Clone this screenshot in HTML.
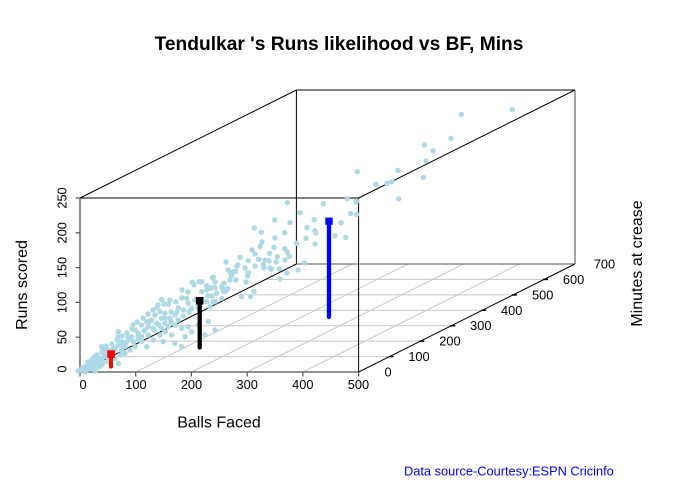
<!DOCTYPE html>
<html><head><meta charset="utf-8"><style>html,body{margin:0;padding:0;background:#fff;}svg{display:block;}</style></head>
<body>
<svg width="676" height="482" viewBox="0 0 676 482" xmlns="http://www.w3.org/2000/svg" font-family="'Liberation Sans', Arial, sans-serif">
<rect width="676" height="482" fill="#fff"/>
<text x="339" y="50" font-size="19.2" font-weight="bold" text-anchor="middle" fill="#000">Tendulkar 's Runs likelihood vs BF, Mins</text>

<!-- grid -->
<g stroke="#c8c8c8" stroke-width="1" fill="none">
<line x1="110.9" y1="356.6" x2="389.5" y2="356.6"/>
<line x1="141.8" y1="341.1" x2="420.4" y2="341.1"/>
<line x1="172.7" y1="325.7" x2="451.3" y2="325.7"/>
<line x1="203.6" y1="310.3" x2="482.2" y2="310.3"/>
<line x1="234.6" y1="294.9" x2="513.2" y2="294.9"/>
<line x1="265.5" y1="279.4" x2="544.1" y2="279.4"/>
<line x1="135.7" y1="372" x2="352.1" y2="264"/>
<line x1="191.4" y1="372" x2="407.8" y2="264"/>
<line x1="247.2" y1="372" x2="463.6" y2="264"/>
<line x1="302.9" y1="372" x2="519.3" y2="264"/>
</g>

<!-- box -->
<g stroke="#000" stroke-width="1" fill="none">
<line x1="80" y1="198" x2="358.6" y2="198"/>
<line x1="80" y1="198" x2="296.4" y2="90"/>
<line x1="358.6" y1="198" x2="575" y2="90"/>
<line x1="296.4" y1="90" x2="575" y2="90"/>
<line x1="296.4" y1="90" x2="296.4" y2="264"/>
<line x1="575" y1="90" x2="575" y2="264" stroke="#444"/>
<line x1="296.4" y1="264" x2="575" y2="264" stroke="#555"/>
<line x1="80" y1="372" x2="296.4" y2="264"/>
<line x1="358.6" y1="198" x2="358.6" y2="372"/>
<line x1="358.6" y1="372" x2="575" y2="264"/>
</g>
<g stroke="#6e6e6e" stroke-width="1.6" fill="none">
<line x1="80" y1="198" x2="80" y2="372.8"/>
<line x1="79.2" y1="372" x2="358.6" y2="372"/>
</g>

<!-- ticks -->
<g stroke="#555" stroke-width="1.2">
<line x1="75.5" y1="372" x2="80" y2="372"/>
<line x1="75.5" y1="337.2" x2="80" y2="337.2"/>
<line x1="75.5" y1="302.4" x2="80" y2="302.4"/>
<line x1="75.5" y1="267.6" x2="80" y2="267.6"/>
<line x1="75.5" y1="232.8" x2="80" y2="232.8"/>
<line x1="75.5" y1="198" x2="80" y2="198"/>
<line x1="80" y1="372" x2="80" y2="376.5"/>
<line x1="135.7" y1="372" x2="135.7" y2="376.5"/>
<line x1="191.4" y1="372" x2="191.4" y2="376.5"/>
<line x1="247.2" y1="372" x2="247.2" y2="376.5"/>
<line x1="302.9" y1="372" x2="302.9" y2="376.5"/>
<line x1="358.6" y1="372" x2="358.6" y2="376.5"/>
</g>
<g stroke="#000" stroke-width="1.5">
<line x1="388.5" y1="356.6" x2="393.5" y2="356.6"/>
<line x1="419.4" y1="341.1" x2="424.4" y2="341.1"/>
<line x1="450.3" y1="325.7" x2="455.3" y2="325.7"/>
<line x1="481.2" y1="310.3" x2="486.2" y2="310.3"/>
<line x1="512.1" y1="294.9" x2="517.1" y2="294.9"/>
<line x1="543" y1="279.4" x2="548" y2="279.4"/>
</g>

<!-- tick labels -->
<g font-size="12.8" fill="#000" text-anchor="middle">
<text transform="translate(66.5,369) rotate(-90)">0</text>
<text transform="translate(66.5,337.2) rotate(-90)">50</text>
<text transform="translate(66.5,302.4) rotate(-90)">100</text>
<text transform="translate(66.5,267.6) rotate(-90)">150</text>
<text transform="translate(66.5,232.8) rotate(-90)">200</text>
<text transform="translate(66.5,198) rotate(-90)">250</text>
<text x="83" y="389">0</text>
<text x="135.9" y="389">100</text>
<text x="191.5" y="389">200</text>
<text x="247.2" y="389">300</text>
<text x="302.8" y="389">400</text>
<text x="358.4" y="389">500</text>
<text x="388.1" y="376.5">0</text>
<text x="419" y="361.1">100</text>
<text x="449.9" y="345.6">200</text>
<text x="480.8" y="330.2">300</text>
<text x="511.7" y="314.8">400</text>
<text x="542.7" y="299.4">500</text>
<text x="573.6" y="283.9">600</text>
<text x="604.5" y="268.5">700</text>
</g>

<!-- axis titles -->
<g font-size="16" fill="#000" text-anchor="middle">
<text transform="translate(27,285) rotate(-90)">Runs scored</text>
<text x="219" y="427.7">Balls Faced</text>
<text transform="translate(642,263.5) rotate(-90)">Minutes at crease</text>
</g>
<text x="404" y="475.7" font-size="12.8" fill="#0000ff">Data source-Courtesy:ESPN Cricinfo</text>

<!-- points -->
<g fill="#ADD8E6">
<circle cx="357.3" cy="171.7" r="2.7"/><circle cx="375.7" cy="184.3" r="2.7"/><circle cx="387" cy="183.3" r="2.7"/><circle cx="391.7" cy="181.7" r="2.7"/><circle cx="397.7" cy="170.3" r="2.7"/><circle cx="398.7" cy="198.7" r="2.7"/><circle cx="424.3" cy="145" r="2.7"/><circle cx="433" cy="150.7" r="2.7"/><circle cx="426" cy="161" r="2.7"/><circle cx="423.3" cy="177.3" r="2.7"/><circle cx="451" cy="138.3" r="2.7"/><circle cx="461.3" cy="114.3" r="2.7"/><circle cx="512.3" cy="109.7" r="2.7"/><circle cx="356.7" cy="201" r="2.7"/>
<circle cx="287.3" cy="202.7" r="2.7"/><circle cx="323.3" cy="203.7" r="2.7"/><circle cx="347.3" cy="198.7" r="2.7"/><circle cx="356" cy="202" r="2.7"/><circle cx="300" cy="212.7" r="2.7"/><circle cx="350.7" cy="213.7" r="2.7"/><circle cx="356.7" cy="214.3" r="2.7"/><circle cx="274.7" cy="220" r="2.7"/><circle cx="290" cy="222.7" r="2.7"/><circle cx="314.3" cy="219.7" r="2.7"/><circle cx="341" cy="222.7" r="2.7"/><circle cx="254.3" cy="228" r="2.7"/><circle cx="261.3" cy="232.3" r="2.7"/><circle cx="284.7" cy="232.7" r="2.7"/><circle cx="307" cy="227.7" r="2.7"/><circle cx="315" cy="230.7" r="2.7"/><circle cx="315.7" cy="233" r="2.7"/><circle cx="335" cy="235.7" r="2.7"/><circle cx="345.7" cy="237.3" r="2.7"/><circle cx="306" cy="238.3" r="2.7"/><circle cx="296.7" cy="243.3" r="2.7"/><circle cx="315" cy="244" r="2.7"/><circle cx="260" cy="246.3" r="2.7"/><circle cx="274" cy="247.3" r="2.7"/><circle cx="284.7" cy="248.7" r="2.7"/><circle cx="287.3" cy="252" r="2.7"/><circle cx="289.3" cy="256.3" r="2.7"/><circle cx="255" cy="254" r="2.7"/><circle cx="269.7" cy="253.3" r="2.7"/><circle cx="277.3" cy="256.7" r="2.7"/><circle cx="285" cy="260" r="2.7"/><circle cx="240" cy="257.3" r="2.7"/><circle cx="248.3" cy="260.7" r="2.7"/><circle cx="258.7" cy="259.3" r="2.7"/><circle cx="265" cy="260" r="2.7"/><circle cx="269" cy="260.7" r="2.7"/><circle cx="263.3" cy="264.7" r="2.7"/><circle cx="236.7" cy="266" r="2.7"/><circle cx="226" cy="262" r="2.7"/><circle cx="270" cy="268" r="2.7"/><circle cx="271.3" cy="269" r="2.7"/><circle cx="279.3" cy="269" r="2.7"/><circle cx="298" cy="270" r="2.7"/><circle cx="304.3" cy="263" r="2.7"/><circle cx="287" cy="273" r="2.7"/><circle cx="280" cy="279" r="2.7"/><circle cx="233.3" cy="271.7" r="2.7"/><circle cx="235.7" cy="271.3" r="2.7"/><circle cx="231" cy="272.7" r="2.7"/><circle cx="231.7" cy="275.3" r="2.7"/><circle cx="248.3" cy="272.7" r="2.7"/><circle cx="247.7" cy="276" r="2.7"/><circle cx="213.3" cy="277.3" r="2.7"/><circle cx="201.7" cy="281.7" r="2.7"/><circle cx="224" cy="283.3" r="2.7"/><circle cx="228" cy="288.7" r="2.7"/><circle cx="223.3" cy="289" r="2.7"/><circle cx="225" cy="291.7" r="2.7"/><circle cx="207.3" cy="286.7" r="2.7"/><circle cx="211" cy="287.7" r="2.7"/><circle cx="214.7" cy="287.7" r="2.7"/><circle cx="206.7" cy="290" r="2.7"/><circle cx="208" cy="295.7" r="2.7"/><circle cx="212" cy="296" r="2.7"/><circle cx="254" cy="291.3" r="2.7"/><circle cx="241.7" cy="296.7" r="2.7"/><circle cx="250.7" cy="296.7" r="2.7"/>
<circle cx="192.3" cy="282.3" r="2.7"/><circle cx="199" cy="281.7" r="2.7"/><circle cx="212.3" cy="277.7" r="2.7"/><circle cx="206.7" cy="285.7" r="2.7"/><circle cx="210" cy="288.3" r="2.7"/><circle cx="215" cy="287.7" r="2.7"/><circle cx="221.7" cy="286.7" r="2.7"/><circle cx="201.7" cy="291.7" r="2.7"/><circle cx="216.7" cy="293.3" r="2.7"/><circle cx="223.3" cy="291" r="2.7"/><circle cx="161.7" cy="299.7" r="2.7"/><circle cx="181.7" cy="297.7" r="2.7"/><circle cx="186.7" cy="298.3" r="2.7"/><circle cx="188.3" cy="303.3" r="2.7"/><circle cx="168.3" cy="304.3" r="2.7"/><circle cx="178.3" cy="307.7" r="2.7"/><circle cx="183.3" cy="310" r="2.7"/><circle cx="191.7" cy="308.3" r="2.7"/><circle cx="206.7" cy="301.7" r="2.7"/><circle cx="210" cy="306.7" r="2.7"/><circle cx="215" cy="301.7" r="2.7"/><circle cx="221.7" cy="298.3" r="2.7"/><circle cx="156.7" cy="307.7" r="2.7"/><circle cx="160" cy="311.7" r="2.7"/><circle cx="165" cy="313.3" r="2.7"/><circle cx="155" cy="315" r="2.7"/><circle cx="161.7" cy="318.3" r="2.7"/><circle cx="170" cy="318.3" r="2.7"/><circle cx="175" cy="315" r="2.7"/><circle cx="178.3" cy="320" r="2.7"/><circle cx="151.7" cy="320" r="2.7"/><circle cx="156.7" cy="323.3" r="2.7"/><circle cx="165" cy="323.3" r="2.7"/><circle cx="141.7" cy="325" r="2.7"/><circle cx="146.7" cy="321.7" r="2.7"/><circle cx="148.3" cy="326.7" r="2.7"/><circle cx="153.3" cy="328.3" r="2.7"/><circle cx="161.7" cy="328.3" r="2.7"/><circle cx="168.3" cy="326.7" r="2.7"/><circle cx="175" cy="325" r="2.7"/><circle cx="181.7" cy="328.3" r="2.7"/><circle cx="188.3" cy="326.7" r="2.7"/><circle cx="191.7" cy="331.7" r="2.7"/><circle cx="198.3" cy="325" r="2.7"/><circle cx="208.3" cy="321.7" r="2.7"/><circle cx="205" cy="335" r="2.7"/><circle cx="215" cy="330" r="2.7"/><circle cx="171.7" cy="335" r="2.7"/><circle cx="165" cy="331.7" r="2.7"/><circle cx="135" cy="330" r="2.7"/><circle cx="138.3" cy="333.3" r="2.7"/><circle cx="141.7" cy="336.7" r="2.7"/><circle cx="148.3" cy="335" r="2.7"/><circle cx="131.7" cy="336.7" r="2.7"/><circle cx="128.3" cy="340" r="2.7"/><circle cx="133.3" cy="341.7" r="2.7"/><circle cx="141.7" cy="341.7" r="2.7"/><circle cx="121.7" cy="341.7" r="2.7"/><circle cx="118.3" cy="345" r="2.7"/><circle cx="125" cy="346.7" r="2.7"/><circle cx="115" cy="348.3" r="2.7"/><circle cx="108.3" cy="350" r="2.7"/><circle cx="121.7" cy="350" r="2.7"/><circle cx="101.7" cy="346.7" r="2.7"/><circle cx="103.3" cy="353.3" r="2.7"/><circle cx="105" cy="355" r="2.7"/><circle cx="95" cy="356.7" r="2.7"/><circle cx="98.3" cy="360" r="2.7"/><circle cx="91.7" cy="360" r="2.7"/><circle cx="88.3" cy="363.3" r="2.7"/><circle cx="93.3" cy="365" r="2.7"/><circle cx="85" cy="366.7" r="2.7"/><circle cx="81.7" cy="369" r="2.7"/><circle cx="90" cy="368.3" r="2.7"/><circle cx="96.7" cy="366.7" r="2.7"/><circle cx="101.7" cy="365" r="2.7"/><circle cx="108.3" cy="361.7" r="2.7"/><circle cx="115" cy="358.3" r="2.7"/><circle cx="120" cy="355" r="2.7"/><circle cx="125" cy="353.3" r="2.7"/><circle cx="130" cy="350" r="2.7"/><circle cx="135" cy="346.7" r="2.7"/><circle cx="118.3" cy="363.3" r="2.7"/><circle cx="78.3" cy="371" r="2.7"/><circle cx="85" cy="371.7" r="2.7"/><circle cx="95" cy="371" r="2.7"/><circle cx="146.7" cy="346.7" r="2.7"/><circle cx="153.3" cy="340" r="2.7"/><circle cx="163.3" cy="341.7" r="2.7"/><circle cx="175" cy="343.3" r="2.7"/><circle cx="185" cy="336.7" r="2.7"/><circle cx="181.7" cy="346.7" r="2.7"/><circle cx="160" cy="335" r="2.7"/><circle cx="118.3" cy="331.7" r="2.7"/>
<circle cx="80" cy="370" r="2.7"/><circle cx="83" cy="368" r="2.7"/><circle cx="87" cy="366" r="2.7"/><circle cx="90" cy="364" r="2.7"/><circle cx="92" cy="368" r="2.7"/><circle cx="95" cy="362" r="2.7"/><circle cx="98" cy="364" r="2.7"/><circle cx="100" cy="360" r="2.7"/><circle cx="103" cy="362" r="2.7"/><circle cx="86" cy="371" r="2.7"/><circle cx="99" cy="367" r="2.7"/><circle cx="104" cy="357" r="2.7"/><circle cx="108" cy="358" r="2.7"/><circle cx="112" cy="355" r="2.7"/><circle cx="111" cy="351" r="2.7"/><circle cx="126" cy="343" r="2.7"/><circle cx="138" cy="339" r="2.7"/><circle cx="145" cy="330" r="2.7"/><circle cx="171" cy="312" r="2.7"/><circle cx="198" cy="308" r="2.7"/><circle cx="213" cy="301.7" r="2.7"/>
<circle cx="88" cy="362" r="2.7"/><circle cx="90" cy="366" r="2.7"/><circle cx="93" cy="358" r="2.7"/><circle cx="94" cy="361" r="2.7"/><circle cx="97" cy="355" r="2.7"/><circle cx="99" cy="358" r="2.7"/><circle cx="102" cy="352" r="2.7"/><circle cx="104" cy="349" r="2.7"/><circle cx="106" cy="346" r="2.7"/><circle cx="107" cy="353" r="2.7"/><circle cx="112" cy="344" r="2.7"/><circle cx="113" cy="349" r="2.7"/><circle cx="117" cy="340" r="2.7"/><circle cx="118" cy="337" r="2.7"/><circle cx="122" cy="336" r="2.7"/><circle cx="123" cy="345" r="2.7"/><circle cx="127" cy="333" r="2.7"/><circle cx="128" cy="337" r="2.7"/><circle cx="132" cy="329" r="2.7"/><circle cx="133" cy="325" r="2.7"/><circle cx="137" cy="322" r="2.7"/><circle cx="138" cy="336" r="2.7"/><circle cx="143" cy="318" r="2.7"/><circle cx="144" cy="331" r="2.7"/><circle cx="148" cy="314" r="2.7"/><circle cx="149" cy="322" r="2.7"/><circle cx="153" cy="310" r="2.7"/><circle cx="154" cy="330" r="2.7"/><circle cx="158" cy="305" r="2.7"/><circle cx="159" cy="325" r="2.7"/><circle cx="164" cy="304" r="2.7"/><circle cx="165" cy="318" r="2.7"/><circle cx="170" cy="300" r="2.7"/><circle cx="171" cy="322" r="2.7"/><circle cx="176" cy="302" r="2.7"/><circle cx="177" cy="312" r="2.7"/><circle cx="182" cy="290" r="2.7"/><circle cx="183" cy="316" r="2.7"/><circle cx="188" cy="292" r="2.7"/><circle cx="189" cy="312" r="2.7"/><circle cx="194" cy="285" r="2.7"/><circle cx="195" cy="300" r="2.7"/><circle cx="215" cy="282" r="2.7"/><circle cx="228" cy="270" r="2.7"/><circle cx="230" cy="280" r="2.7"/><circle cx="236" cy="280" r="2.7"/><circle cx="238" cy="265" r="2.7"/><circle cx="245" cy="268" r="2.7"/><circle cx="246" cy="282" r="2.7"/><circle cx="252" cy="250" r="2.7"/><circle cx="255" cy="266" r="2.7"/><circle cx="262" cy="242" r="2.7"/><circle cx="264" cy="268" r="2.7"/><circle cx="275" cy="238" r="2.7"/><circle cx="276" cy="262" r="2.7"/>
</g>

<!-- highlighted bars -->
<line x1="111" y1="356" x2="111" y2="366.5" stroke="#ff0000" stroke-width="4" stroke-linecap="round"/>
<rect x="107.3" y="350.3" width="7.6" height="7.6" fill="#ff0000"/>
<line x1="199.7" y1="303" x2="199.7" y2="347.5" stroke="#000" stroke-width="4.3" stroke-linecap="round"/>
<rect x="195.9" y="297" width="7.6" height="7.6" fill="#000"/>
<line x1="329" y1="223" x2="329" y2="317" stroke="#0000ff" stroke-width="4.3" stroke-linecap="round"/>
<rect x="325.3" y="217.6" width="7.4" height="7.2" fill="#0000ff"/>
</svg>
</body></html>
